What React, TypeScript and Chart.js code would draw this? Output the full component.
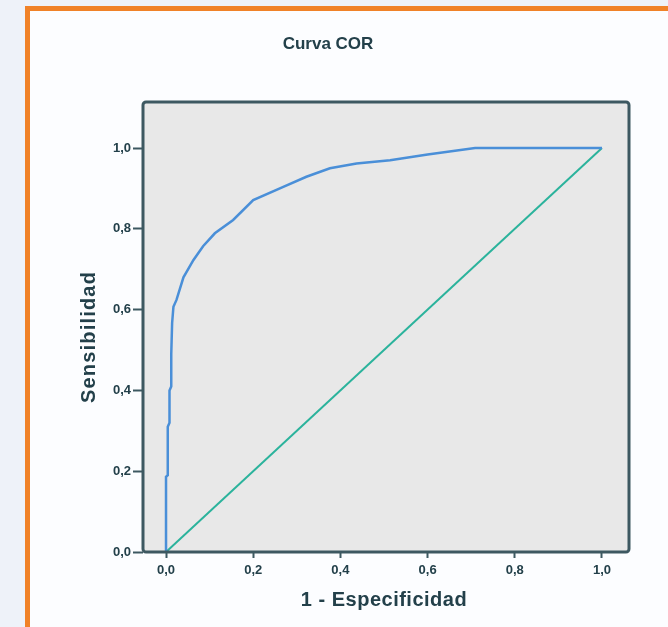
import React, { useEffect, useRef } from "react";
import { Chart, registerables } from "chart.js";

Chart.register(...registerables);

// ROC curve (1 - Especificidad, Sensibilidad)
const fprValues = [0, 0, 0.004, 0.004, 0.008, 0.008, 0.012, 0.012, 0.014, 0.017, 0.024, 0.04, 0.063, 0.085, 0.112, 0.154, 0.2, 0.269, 0.322, 0.376, 0.437, 0.514, 0.6, 0.709, 1.0];
const tprValues = [0, 0.186, 0.19, 0.31, 0.32, 0.4, 0.41, 0.49, 0.567, 0.607, 0.624, 0.68, 0.723, 0.757, 0.789, 0.822, 0.871, 0.904, 0.929, 0.95, 0.962, 0.97, 0.984, 1.0, 1.0];
// Reference diagonal
const diagX = [0, 1];
const diagY = [0, 1];
const tickValues = [0, 0.2, 0.4, 0.6, 0.8, 1.0];

const chartTitle = "Curva COR";
const xTitle = "1 - Especificidad";
const yTitle = "Sensibilidad";

const FONT = "'Liberation Sans', Arial, sans-serif";
const TEXT = "#23404a";
const AXIS = "#3d5861";

const fmt = (v: number) => v.toFixed(1).replace(".", ",");

export default function App() {
  const ref = useRef<HTMLCanvasElement | null>(null);

  useEffect(() => {
    if (!ref.current) return;
    const framePlugin = {
      id: "frame",
      beforeDraw(chart: any) {
        const { ctx, chartArea: a } = chart;
        ctx.save();
        ctx.fillStyle = "#e8e8e8";
        ctx.fillRect(a.left, a.top, a.right - a.left, a.bottom - a.top);
        ctx.restore();
      },
      afterDraw(chart: any) {
        const { ctx, chartArea: a } = chart;
        ctx.save();
        ctx.strokeStyle = AXIS;
        ctx.lineWidth = 3;
        ctx.beginPath();
        (ctx as any).roundRect(a.left, a.top, a.right - a.left, a.bottom - a.top, 3);
        ctx.stroke();
        ctx.fillStyle = TEXT;
        ctx.textAlign = "center";
        ctx.textBaseline = "middle";
        ctx.font = `bold 17px ${FONT}`;
        ctx.fillText(chartTitle, 328, 44);
        ctx.font = `bold 20px ${FONT}`;
        (ctx as any).letterSpacing = "0.5px";
        ctx.fillText(xTitle, (a.left + a.right) / 2 - 2, 600);
        ctx.translate(89, (a.top + a.bottom) / 2 + 10);
        ctx.rotate(-Math.PI / 2);
        (ctx as any).letterSpacing = "1.2px";
        ctx.fillText(yTitle, 0, 0);
        ctx.restore();
      },
    };

    const chart = new Chart(ref.current, {
      type: "scatter",
      data: {
        datasets: [
          {
            data: diagX.map((x, i) => ({ x, y: diagY[i] })),
            showLine: true,
            borderColor: "#2bb39c",
            borderWidth: 2,
            pointRadius: 0,
            order: 2,
          },
          {
            data: fprValues.map((x, i) => ({ x, y: tprValues[i] })),
            showLine: true,
            borderColor: "#4a8fd8",
            borderWidth: 2.5,
            pointRadius: 0,
            order: 1,
          },
        ],
      },
      options: {
        responsive: false,
        animation: false,
        layout: { padding: { top: 102, left: 0, right: 39, bottom: 0 } },
        plugins: { legend: { display: false }, tooltip: { enabled: false }, title: { display: false } },
        scales: {
          x: {
            type: "linear",
            min: -0.0528,
            max: 1.062,
            afterBuildTicks: (s: any) => { s.ticks = tickValues.map((v) => ({ value: v })); },
            afterFit: (s: any) => { s.height = 75; },
            border: { display: false },
            grid: { drawOnChartArea: false, drawTicks: true, tickLength: 6, tickWidth: 2, tickColor: AXIS },
            ticks: { padding: 5, color: TEXT, font: { family: FONT, size: 13, weight: "bold" }, callback: (v: any) => fmt(Number(v)), maxRotation: 0 },
          },
          y: {
            type: "linear",
            min: 0,
            max: 1.114,
            afterBuildTicks: (s: any) => { s.ticks = tickValues.map((v) => ({ value: v })); },
            afterFit: (s: any) => { s.width = 143; },
            border: { display: false },
            grid: { drawOnChartArea: false, drawTicks: true, tickLength: 10, tickWidth: 2, tickColor: AXIS },
            ticks: { padding: 2, color: TEXT, font: { family: FONT, size: 13, weight: "bold" }, callback: (v: any) => fmt(Number(v)) },
          },
        },
      },
      plugins: [framePlugin],
    } as any);
    return () => chart.destroy();
  }, []);

  return (
    <div style={{ position: "fixed", left: 0, top: 0, width: 668, height: 627, overflow: "hidden", background: "#eef2f9" }}>
      <div style={{ position: "absolute", left: 25, top: 6, width: 700, height: 700, borderLeft: "5px solid #f08228", borderTop: "5px solid #f08228", background: "#fcfdff" }} />
      <canvas ref={ref} width={668} height={627} style={{ position: "absolute", left: 0, top: 0, width: 668, height: 627 }} />
    </div>
  );
}
